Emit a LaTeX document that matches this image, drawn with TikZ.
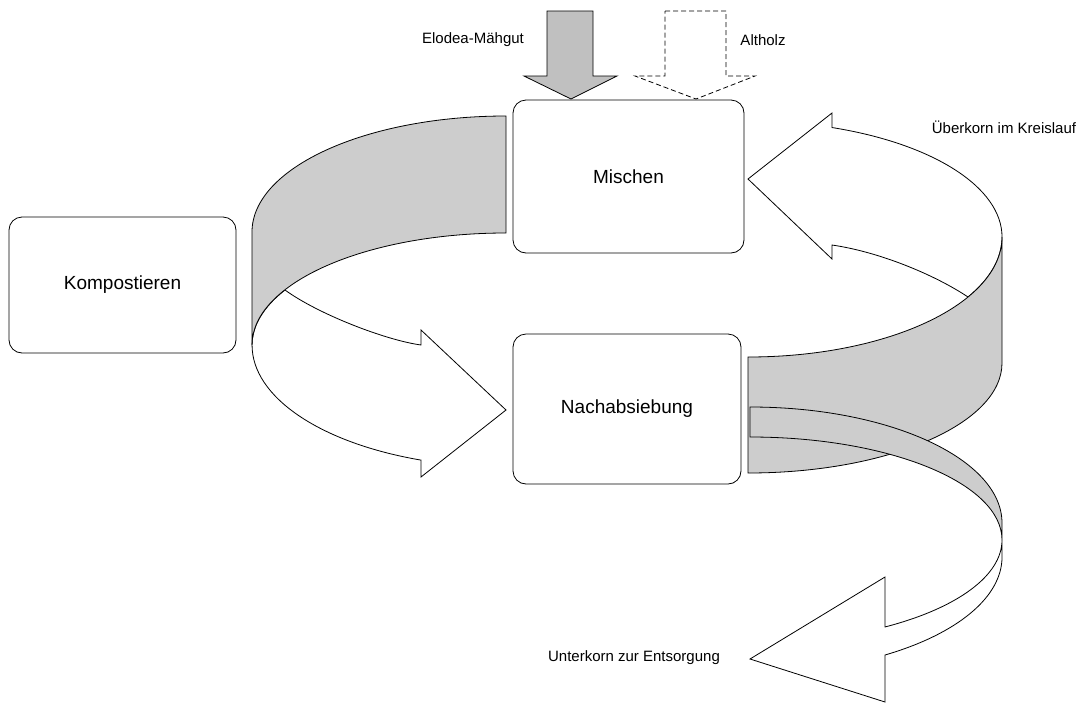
\documentclass[tikz,border=0pt]{standalone}
\usepackage{fontspec}
\setmainfont{Liberation Sans}
\definecolor{bandgrey}{HTML}{CDCDCD}
\definecolor{feedgrey}{HTML}{C0C0C0}
\begin{document}
\begin{tikzpicture}[x=1pt,y=-1pt,line join=miter,
  stepbox/.style={draw=black,line width=0.8pt,rounded corners=13pt,fill=white,
    inner sep=0pt,outer sep=0pt,font=\fontsize{19}{23}\selectfont},
  lbl/.style={inner sep=0pt,font=\fontsize{15}{18}\selectfont},
  band/.style={draw=black,line width=0.8pt,fill=bandgrey},
  flat/.style={draw=black,line width=0.8pt,fill=white},
  feed/.style={draw=black,line width=0.8pt,fill=feedgrey},
  feeddash/.style={draw=black,line width=0.8pt,fill=white,dash pattern=on 5pt off 3pt}]
\useasboundingbox (0,0) rectangle (1085,702);

% process steps
\node[stepbox,minimum width=227pt,minimum height=136pt] (komp) at (122.5,285) {Kompostieren};
\node[stepbox,minimum width=231pt,minimum height=153pt] (misch) at (628.5,176.5) {Mischen};
\node[stepbox,minimum width=228pt,minimum height=150pt] (sieb) at (627,409) {Nachabsiebung};

% inputs from above
\draw[feed] (547,11) -- (593,11) -- (593,76) -- (617,76) -- (571,99) -- (524,76) -- (547,76) -- cycle;
\draw[feeddash] (665,11) -- (726,11) -- (726,76) -- (755,76) -- (696,99) -- (635,76) -- (665,76) -- cycle;
\node[lbl] (elodea) at (473,40) {Elodea-Mähgut};
\node[lbl] (altholz) at (763,40) {Altholz};

% curved arrow: Kompostieren -> Nachabsiebung
\draw[flat] (285,290) arc[start angle=209.5,end angle=180,x radius=254,y radius=112]
  arc[start angle=180,end angle=109.55,x radius=254,y radius=122]
  -- (421,477) -- (506,410) -- (421,330) -- (421,345)
  .. controls (385,340) and (318,314) .. (285,290) -- cycle;
\draw[band] (506,116) arc[start angle=270,end angle=180,x radius=254,y radius=116]
  -- (252,345) arc[start angle=180,end angle=270,x radius=254,y radius=112] -- cycle;

% curved arrow: oversize back to Mischen
\draw[flat] (968,297) arc[start angle=30,end angle=0,x radius=254,y radius=120]
  arc[start angle=0,end angle=-70.69,x radius=254,y radius=116]
  -- (832,113) -- (748,179) -- (832,259) -- (832,245)
  .. controls (880,252) and (935,275) .. (968,297) -- cycle;
\draw[band] (748,357) arc[start angle=90,end angle=0,x radius=254,y radius=120]
  -- (1002,363) arc[start angle=0,end angle=90,x radius=254,y radius=110] -- cycle;
\node[lbl] (ueber) at (1004,127) {Überkorn im Kreislauf};

% curved arrow: undersize to disposal
\draw[band] (750,407) arc[start angle=270,end angle=360,x radius=252,y radius=116]
  -- (1002,540) arc[start angle=0,end angle=-90,x radius=252,y radius=103] -- cycle;
\draw[flat] (1002,540) arc[start angle=0,end angle=57.61,x radius=252,y radius=103]
  -- (885,577) -- (750,659) -- (885,702) -- (885,655)
  arc[start angle=57.61,end angle=0,x radius=252,y radius=116] -- cycle;
\node[lbl] (unter) at (634,658) {Unterkorn zur Entsorgung};
\end{tikzpicture}
\end{document}
